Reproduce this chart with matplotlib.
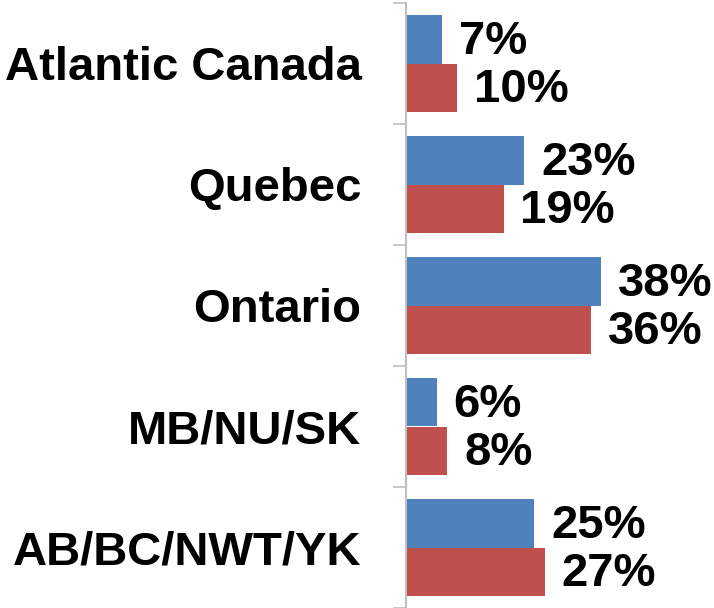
import numpy as np
import matplotlib.pyplot as plt

plt.rcParams['font.family'] = ['Liberation Sans', 'DejaVu Sans']

# ── Datos ─────────────────────────────────────────────────────────────────────
regions = ["Atlantic Canada", "Quebec", "Ontario", "MB/NU/SK", "AB/BC/NWT/YK"]
blue_vals = [7, 23, 38, 6, 25]
red_vals = [10, 19, 36, 8, 27]

COLOR_BLUE = "#4F81BD"
COLOR_RED = "#C0504D"

fig = plt.figure(figsize=(7.14, 6.08), dpi=100)
ax = fig.add_axes([406/714, 0, 1 - 406/714, 1 - 3/608])

y = np.arange(len(regions))
h = 0.4
ax.barh(y - h/2, blue_vals, height=h, color=COLOR_BLUE)
ax.barh(y + h/2, red_vals, height=h, color=COLOR_RED)

for yi, v in zip(y - h/2, blue_vals):
    ax.text(v + 3.3, yi + 0.02, f"{v}%", va="center", ha="left",
            fontsize=34, fontweight="bold")
for yi, v in zip(y + h/2, red_vals):
    ax.text(v + 3.3, yi + 0.02, f"{v}%", va="center", ha="left",
            fontsize=34, fontweight="bold")

ax.set_xlim(0, 60)
ax.set_ylim(len(regions) - 0.5, -0.5)
ax.set_yticks(y)
ax.set_yticklabels(regions, fontsize=34, fontweight="bold")
ax.tick_params(axis="y", which="major", length=0, pad=32)
ax.set_yticks(np.arange(len(regions) + 1) - 0.5, minor=True)
ax.tick_params(axis="y", which="minor", length=9.5, width=1.2, color="#BFBFBF")
ax.set_xticks([])

for s in ["top", "right", "bottom"]:
    ax.spines[s].set_visible(False)
ax.spines["left"].set_color("#BFBFBF")
ax.spines["left"].set_linewidth(1.5)

fig.savefig("out.png", dpi=100, facecolor="white")
